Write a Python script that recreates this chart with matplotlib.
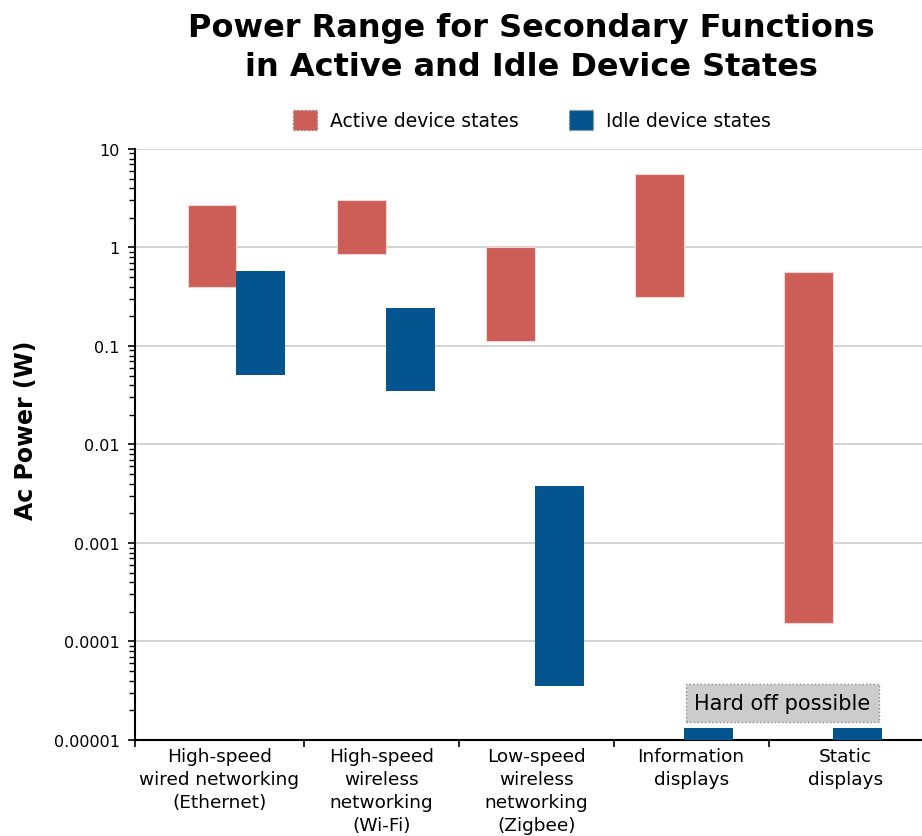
import numpy as np
import matplotlib.pyplot as plt
from matplotlib.patches import Patch
from matplotlib.ticker import FixedLocator, LogLocator, NullFormatter

# data: power ranges (W)
categories = ["High-speed\nwired networking\n(Ethernet)",
              "High-speed\nwireless\nnetworking\n(Wi-Fi)",
              "Low-speed\nwireless\nnetworking\n(Zigbee)",
              "Information\ndisplays",
              "Static\ndisplays"]
active_low = [0.40, 0.86, 0.112, 0.314, 1.54e-4]
active_high = [2.7, 3.03, 1.0, 5.57, 0.56]
idle_low = [0.051, 0.035, 3.5e-5, 1e-5, 1e-5]
idle_high = [0.58, 0.243, 0.0038, 1.32e-5, 1.32e-5]
ytick_vals = [1e-5, 1e-4, 1e-3, 1e-2, 1e-1, 1, 10]
ytick_labels = ["0.00001", "0.0001", "0.001", "0.01", "0.1", "1", "10"]

red = "#CD5E57"
blue = "#04558F"

fig = plt.figure(figsize=(9.22, 8.37), dpi=100)
ax = fig.add_axes([0.1464, 0.1147, 0.8536, 0.7061])

n = len(categories)
w = 0.316
centers = 0.565 + 0.963 * np.arange(n)
a_lo, a_hi = np.array(active_low), np.array(active_high)
i_lo, i_hi = np.array(idle_low), np.array(idle_high)

ax.set_yscale("log")
ax.bar(centers - w / 2, a_hi - a_lo, bottom=a_lo, width=w, color=red,
       edgecolor="#f3d6d4", linewidth=0.8, zorder=3)
ax.bar(centers + w / 2, i_hi - i_lo, bottom=i_lo, width=w, color=blue,
       linewidth=0, zorder=3)

ax.set_ylim(1e-5, 10)
x0, x1 = -0.09, 4.99
ax.set_xlim(x0, x1)

ax.set_yticks(ytick_vals)
ax.set_yticklabels(ytick_labels, fontsize=11.5)
ax.yaxis.set_minor_locator(LogLocator(base=10, subs=np.arange(2, 10)))
ax.yaxis.set_minor_formatter(NullFormatter())
ax.tick_params(axis="y", which="major", length=5, width=1.2, pad=6)
ax.tick_params(axis="y", which="minor", length=4, width=1)
ax.grid(axis="y", which="major", color="#cccccc", linewidth=1.2, zorder=0)

# x: boundary ticks, labels centred between them
bounds = [x0, 1, 2, 3, 4, x1]
ax.xaxis.set_major_locator(FixedLocator(bounds[:-1]))
ax.xaxis.set_major_formatter(NullFormatter())
mids = [(bounds[k] + bounds[k + 1]) / 2 for k in range(n)]
ax.xaxis.set_minor_locator(FixedLocator(mids))
ax.set_xticklabels(categories, minor=True, fontsize=13.3, linespacing=1.36)
ax.tick_params(axis="x", which="minor", length=0, pad=5)
ax.tick_params(axis="x", which="major", length=5, width=1.2)

for s in ["top", "right"]:
    ax.spines[s].set_visible(False)
ax.spines["left"].set_linewidth(1.5)
ax.spines["bottom"].set_linewidth(1.5)

ax.set_ylabel("Ac Power (W)", fontsize=17, fontweight="bold")
ax.yaxis.set_label_coords(-0.123, 0.525)

ax.text(4.09, 2.38e-5, "Hard off possible", fontsize=15, ha="center", va="center",
        zorder=5, bbox=dict(boxstyle="square,pad=0.42", facecolor="#cccccc",
                            edgecolor="#888888", linestyle=":", linewidth=1))

handles = [Patch(facecolor=red, edgecolor="#888888", linestyle=":", label="Active device states"),
           Patch(facecolor=blue, edgecolor="#888888", linestyle=":", label="Idle device states")]
fig.legend(handles=handles, loc="center", bbox_to_anchor=(0.577, 0.855), ncol=2,
           frameon=False, fontsize=13.5, handlelength=1.25, handleheight=1.25,
           columnspacing=2.7, handletextpad=0.7)

fig.suptitle("Power Range for Secondary Functions\nin Active and Idle Device States",
             x=0.5765, y=0.984, fontsize=23, fontweight="bold", linespacing=1.3)

fig.savefig("out.png", dpi=100)
